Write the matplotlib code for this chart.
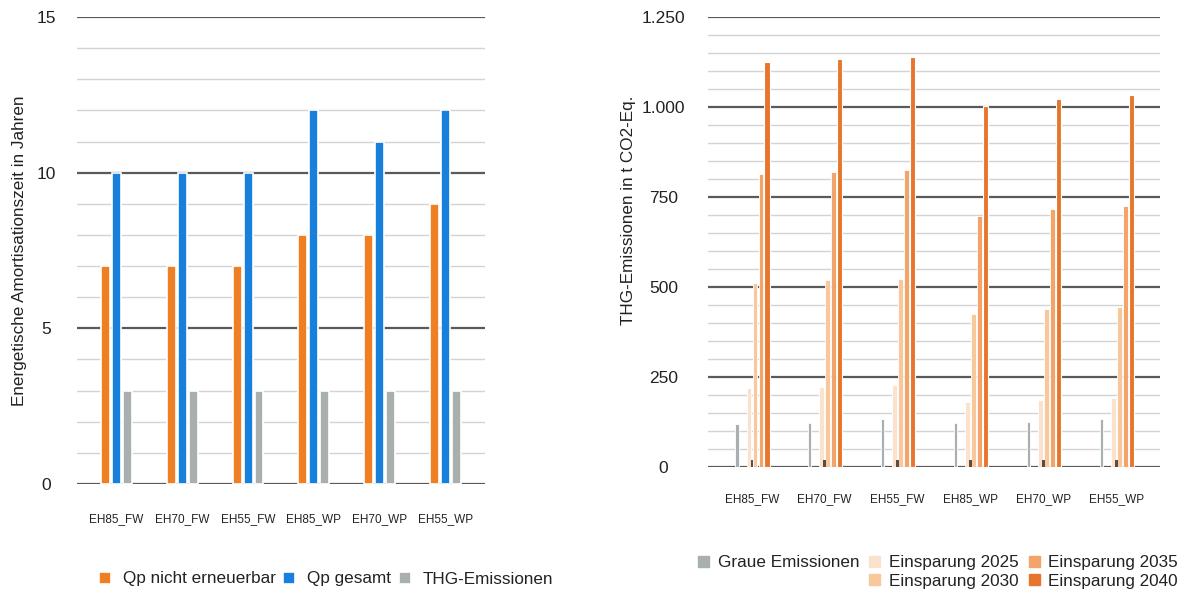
#!/usr/bin/env python
# coding: utf-8

# Amortisationszeit und THG-Emissionen

import numpy as np
import matplotlib
matplotlib.use('Agg')
import matplotlib.pyplot as plt
from matplotlib.patches import Patch
from matplotlib.ticker import MultipleLocator, FuncFormatter

plt.rcParams['font.family'] = ['Liberation Sans', 'DejaVu Sans']

# Daten
varianten = ['EH85_FW', 'EH70_FW', 'EH55_FW', 'EH85_WP', 'EH70_WP', 'EH55_WP']

qp_nicht_erneuerbar = [7, 7, 7, 8, 8, 9]
qp_gesamt = [10, 10, 10, 12, 11, 12]
thg_amortisation = [3, 3, 3, 3, 3, 3]

graue_emissionen = [119, 122, 133, 121, 124, 133]
kleiner_anteil = [20, 20, 20, 20, 20, 20]
einsparung_2025 = [220, 223, 228, 180, 187, 193]
einsparung_2030 = [512, 519, 523, 425, 439, 445]
einsparung_2035 = [814, 820, 825, 698, 717, 726]
einsparung_2040 = [1125, 1133, 1138, 1002, 1023, 1033]

# Farben
c_orange = '#f07e22'
c_blau = '#1680dc'
c_grau = '#a9aeae'
c_2025 = '#fbe2cc'
c_2030 = '#f8c79b'
c_2035 = '#f3a46a'
c_2040 = '#e7762c'
c_dunkel = '#5e4c44'
c_text = '#222222'

def raster(ax, minor, major):
    ax.yaxis.set_minor_locator(MultipleLocator(minor))
    ax.yaxis.set_major_locator(MultipleLocator(major))
    ax.grid(which='minor', axis='y', color='#d3d3d3', lw=1.0, zorder=0)
    ax.grid(which='major', axis='y', color='#5a5a5a', lw=1.6, zorder=0)
    ax.set_axisbelow(True)
    for s in ax.spines.values():
        s.set_visible(False)
    ax.tick_params(axis='both', which='both', length=0, colors=c_text)

fig = plt.figure(figsize=(11.88, 5.90), dpi=100)

# linkes Diagramm
ax1 = fig.add_axes([0.0648, 0.1797, 0.3434, 0.7915])
x = np.arange(len(varianten))
bw = 0.135
d = 0.167
ax1.bar(x - d, qp_nicht_erneuerbar, bw, color=c_orange, edgecolor='white', lw=1.2, zorder=3, label='Qp nicht erneuerbar')
ax1.bar(x, qp_gesamt, bw, color=c_blau, edgecolor='white', lw=1.2, zorder=3, label='Qp gesamt')
ax1.bar(x + d, thg_amortisation, bw, color=c_grau, edgecolor='white', lw=1.2, zorder=3, label='THG-Emissionen')
ax1.set_xlim(-0.6, 5.6)
ax1.set_ylim(0, 15)
raster(ax1, 1, 5)
ax1.set_xticks(x)
ax1.set_xticklabels(varianten, fontsize=8.5)
ax1.tick_params(axis='x', pad=21)
ax1.tick_params(axis='y', labelsize=12.5, pad=22)
for lab in ax1.get_yticklabels():
    lab.set_ha('center')
ax1.set_ylabel('Energetische Amortisationszeit in Jahren', fontsize=12.3, color=c_text)
ax1.yaxis.set_label_coords(-0.123, 0.5)

h1, l1 = ax1.get_legend_handles_labels()
fig.legend(h1, l1, loc='center', bbox_to_anchor=(326 / 1188, 1 - 579 / 590), ncol=3, frameon=False,
           fontsize=12.3, handlelength=0.7, handleheight=0.7, handletextpad=0.7, columnspacing=0.45,
           labelcolor=c_text)

# rechtes Diagramm
ax2 = fig.add_axes([0.596, 0.2085, 0.3805, 0.7627])
px = 1 / 72.8
ax2.bar(x - 15 * px, graue_emissionen, 3.5 * px, color=c_grau, edgecolor='white', lw=0.6, zorder=3)
ax2.bar(x - 3 * px, einsparung_2025, 4.5 * px, color=c_2025, edgecolor='white', lw=0.6, zorder=3)
ax2.bar(x + 3 * px, einsparung_2030, 4.5 * px, color=c_2030, edgecolor='white', lw=0.6, zorder=3)
ax2.bar(x + 9 * px, einsparung_2035, 4.5 * px, color=c_2035, edgecolor='white', lw=0.6, zorder=3)
ax2.bar(x + 15 * px, einsparung_2040, 5.5 * px, color=c_2040, edgecolor='white', lw=0.8, zorder=3)
ax2.bar(x + 0 * px, kleiner_anteil, 2.5 * px, color=c_dunkel, lw=0, zorder=4)
ax2.set_xlim(-0.6, 5.6)
ax2.set_ylim(0, 1250)
raster(ax2, 50, 250)
ax2.yaxis.set_major_formatter(FuncFormatter(lambda v, p: f'{int(v):,}'.replace(',', '.')))
ax2.set_xticks(x)
ax2.set_xticklabels(varianten, fontsize=8.5)
ax2.tick_params(axis='x', pad=19)
ax2.tick_params(axis='y', labelsize=12.5, pad=32)
for lab in ax2.get_yticklabels():
    lab.set_ha('center')
ax2.set_ylabel('THG-Emissionen in t CO2-Eq.', fontsize=12.3, color=c_text)
ax2.yaxis.set_label_coords(-0.16, 0.571)

h2 = [Patch(color=c_grau), Patch(color='none'), Patch(color=c_2025), Patch(color=c_2030),
      Patch(color=c_2035), Patch(color=c_2040)]
l2 = ['Graue Emissionen', '', 'Einsparung 2025', 'Einsparung 2030', 'Einsparung 2035', 'Einsparung 2040']
fig.legend(h2, l2, loc='center', bbox_to_anchor=(938 / 1188, 1 - 572 / 590), ncol=3, frameon=False,
           fontsize=12.3, handlelength=0.65, handleheight=0.65, handletextpad=0.5, columnspacing=0.6,
           labelspacing=0.18, labelcolor=c_text)

fig.savefig('out.png', dpi=100)
